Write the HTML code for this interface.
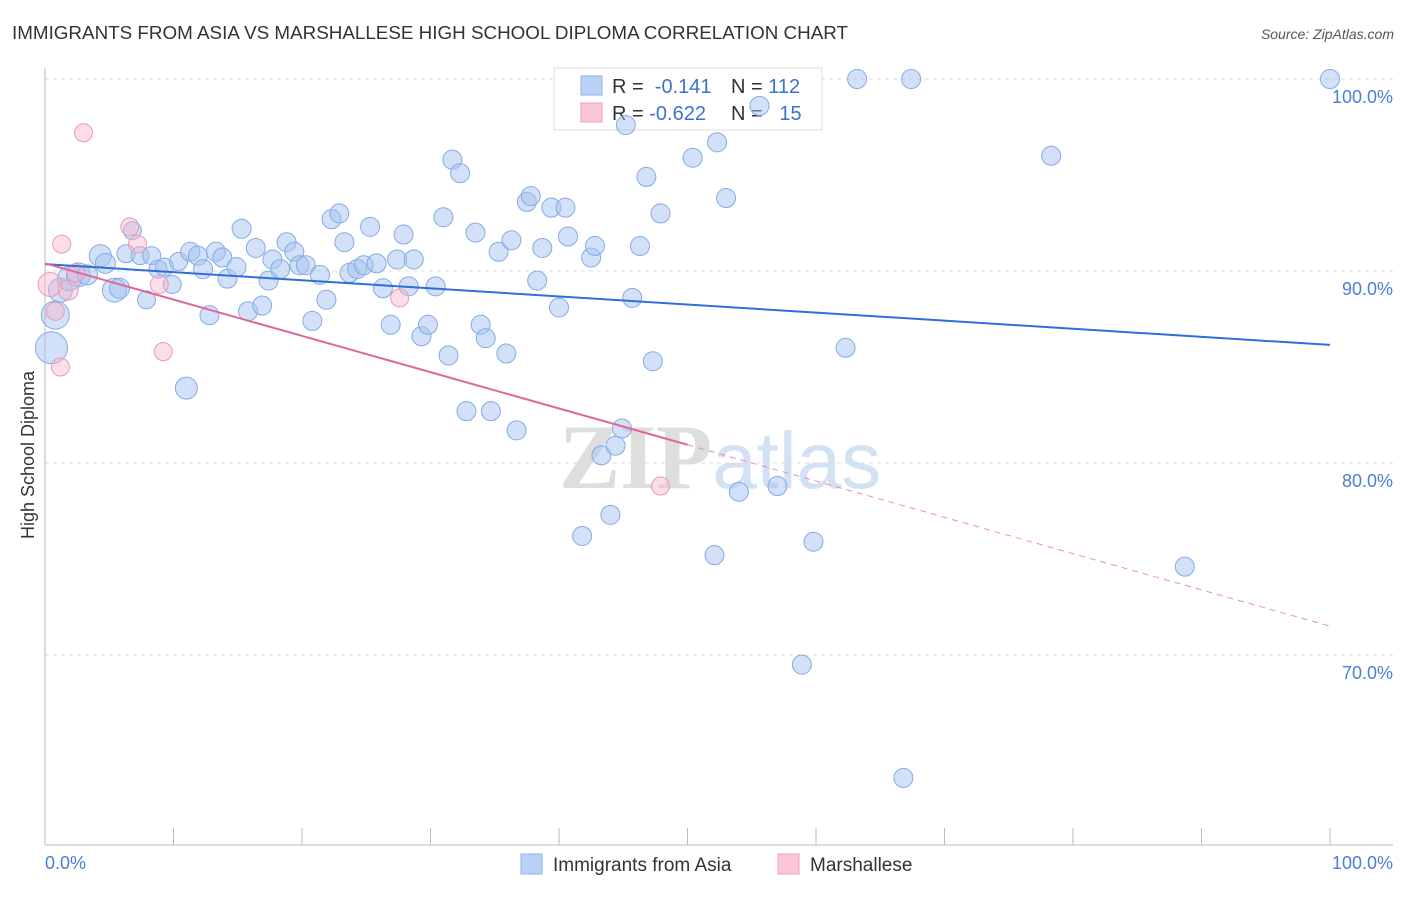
<!DOCTYPE html>
<html><head><meta charset="utf-8"><style>
body{margin:0;background:#fff;font-family:"Liberation Sans",sans-serif;}
svg text{font-family:"Liberation Sans",sans-serif;}
</style></head><body>
<svg id="chart" width="1406" height="892" xmlns="http://www.w3.org/2000/svg">
<text x="12" y="39" font-size="18.5" fill="#333" textLength="836" lengthAdjust="spacingAndGlyphs">IMMIGRANTS FROM ASIA VS MARSHALLESE HIGH SCHOOL DIPLOMA CORRELATION CHART</text>
<text x="1394" y="39" font-size="14" fill="#555" text-anchor="end" font-style="italic">Source: ZipAtlas.com</text>
<text x="720" y="488" font-size="92" text-anchor="middle" fill="#ddd" opacity="0.8"><tspan font-family="Liberation Serif" font-weight="bold" fill="#d6d6d6">ZIP</tspan><tspan fill="#c9daf3" font-size="80">atlas</tspan></text>
<g id="grid"></g>
<g>
<rect x="554" y="68" width="268" height="62" fill="#fff" stroke="#ddd"/>
<rect x="581" y="76" width="21" height="19" fill="#b9d2f5" stroke="#8fb2e8"/>
<rect x="581" y="103" width="21" height="19" fill="#fbc6d6" stroke="#eea1bb"/>
<text x="612" y="93" font-size="20" fill="#333">R = <tspan fill="#3b73d0">&#160;-0.141</tspan></text>
<text x="731" y="93" font-size="20" fill="#333">N = <tspan fill="#3b73d0">112</tspan></text>
<text x="612" y="120" font-size="20" fill="#333">R = <tspan fill="#3b73d0">-0.622</tspan></text>
<text x="731" y="120" font-size="20" fill="#333">N = <tspan fill="#3b73d0">&#160;&#160;15</tspan></text>
</g>
<g id="marks"></g>
<text transform="translate(34,455) rotate(-90)" font-size="18" fill="#333" text-anchor="middle">High School Diploma</text>
<text x="45" y="869" font-size="18" fill="#4a7fd4">0.0%</text>
<text x="1393" y="869" font-size="18" fill="#4a7fd4" text-anchor="end">100.0%</text>
<g>
<rect x="521" y="854" width="21" height="20" fill="#b9d2f5" stroke="#8fb2e8"/>
<text x="553" y="871" font-size="19" fill="#333">Immigrants from Asia</text>
<rect x="778" y="854" width="21" height="20" fill="#fbc6d6" stroke="#eea1bb"/>
<text x="810" y="871" font-size="19" fill="#333">Marshallese</text>
</g>
</svg>
<script>
const yTicks=[100,90,80,70];
const yTickLabels=["100.0%","90.0%","80.0%","70.0%"];
const blueX=[0.5,0.8,1.2,1.9,2.6,3.3,4.3,4.7,5.4,5.8,6.3,6.8,7.4,7.9,8.3,8.8,9.3,9.9,10.4,11.0,11.3,11.9,12.3,12.8,13.3,13.8,14.2,14.9,15.3,15.8,16.4,16.9,17.4,17.7,18.3,18.8,19.4,19.8,20.3,20.8,21.4,21.9,22.3,22.9,23.3,23.7,24.3,24.8,25.3,25.8,26.3,26.9,27.4,27.9,28.3,28.7,29.3,29.8,30.4,31.0,31.4,31.7,32.3,32.8,33.5,33.9,34.3,34.7,35.3,35.9,36.3,36.7,37.5,37.8,38.3,38.7,39.4,40.0,40.5,40.7,41.8,42.5,42.8,43.3,44.0,44.4,44.9,45.2,45.7,46.3,46.8,47.3,47.9,50.4,52.1,52.3,53.0,54.0,55.6,57.0,58.9,59.8,62.3,63.2,66.8,67.4,78.3,88.7,100];
const blueY=[86.0,87.7,89.0,89.6,89.8,89.8,90.8,90.4,89.0,89.1,90.9,92.1,90.8,88.5,90.8,90.1,90.2,89.3,90.5,83.9,91.0,90.8,90.1,87.7,91.0,90.7,89.6,90.2,92.2,87.9,91.2,88.2,89.5,90.6,90.1,91.5,91.0,90.3,90.3,87.4,89.8,88.5,92.7,93.0,91.5,89.9,90.1,90.3,92.3,90.4,89.1,87.2,90.6,91.9,89.2,90.6,86.6,87.2,89.2,92.8,85.6,95.8,95.1,82.7,92.0,87.2,86.5,82.7,91.0,85.7,91.6,81.7,93.6,93.9,89.5,91.2,93.3,88.1,93.3,91.8,76.2,90.7,91.3,80.4,77.3,80.9,81.8,97.6,88.6,91.3,94.9,85.3,93.0,95.9,75.2,96.7,93.8,78.5,98.6,78.8,69.5,75.9,86.0,100,63.6,100,96.0,74.6,100];
const blueR=[16,14,12,12,12,10,11,10,12,10,9,9,9,9,9,9,9,9,9,11];
const pinkX=[0.4,0.8,1.2,1.3,1.8,2.4,3.0,6.6,7.2,8.9,9.2,27.6,47.9];
const pinkY=[89.3,87.9,85.0,91.4,89.0,89.9,97.2,92.3,91.4,89.3,85.8,88.6,78.8];
const pinkR=[12,9,9,9,10,9,9,9,9,9,9,9,9];
const blueFit=[90.36,86.15];
const pinkFit=[90.4,71.5];
const pinkSolidEnd=50;
const NS="http://www.w3.org/2000/svg";
const sx=v=>45+v*12.85;
const sy=v=>79+(100-v)*19.2;
const grid=document.getElementById('grid'),marks=document.getElementById('marks');
function mk(tag,attrs,parent){const e=document.createElementNS(NS,tag);for(const k in attrs)e.setAttribute(k,attrs[k]);parent.appendChild(e);return e;}
yTicks.forEach((t,i)=>{
 const l=mk('line',{x1:45,x2:1393,y1:sy(t),y2:sy(t),stroke:'#ddd','stroke-dasharray':'4,4'},grid);
 
 
 const tx=mk('text',{x:1393,y:sy(t)+24,'font-size':18,fill:'#4a7fd4','text-anchor':'end'},grid);
 tx.textContent=yTickLabels[i];
 
 
});
const ax=mk('line',{x1:45,x2:45,y1:68,y2:845,stroke:'#bbb'},grid);


const bx=mk('line',{x1:45,x2:1393,y1:845,y2:845,stroke:'#bbb'},grid);


for(let i=0;i<=10;i++){const t=mk('line',{x1:sx(i*10),x2:sx(i*10),y1:828,y2:845,stroke:'#bbb'},grid);
 
 }
blueX.forEach((x,i)=>{const c=mk('circle',{cx:sx(x),cy:sy(blueY[i]),r:blueR[i]||9.5,fill:'rgba(165,195,240,0.5)',stroke:'#85abe6','stroke-width':1},marks);
 
 });
pinkX.forEach((x,i)=>{const c=mk('circle',{cx:sx(x),cy:sy(pinkY[i]),r:pinkR[i],fill:'rgba(248,180,205,0.45)',stroke:'#ea9bb8','stroke-width':1},marks);
 
 });
const bl=mk('line',{x1:sx(0),y1:sy(blueFit[0]),x2:sx(100),y2:sy(blueFit[1]),stroke:'#2f6fd6','stroke-width':2},marks);


const pv=x=>pinkFit[0]+(pinkFit[1]-pinkFit[0])*x/100;
const pl=mk('line',{x1:sx(0),y1:sy(pv(0)),x2:sx(pinkSolidEnd),y2:sy(pv(pinkSolidEnd)),stroke:'#e0669a','stroke-width':2},marks);


const pd=mk('line',{x1:sx(pinkSolidEnd),y1:sy(pv(pinkSolidEnd)),x2:sx(100),y2:sy(pv(100)),stroke:'#e88fb3','stroke-width':1,'stroke-dasharray':'6,5'},marks);


</script>
</body></html>
